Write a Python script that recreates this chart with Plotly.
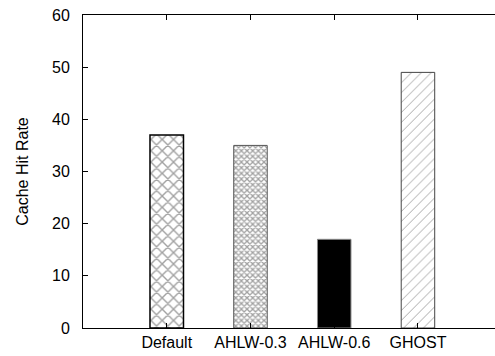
import plotly.graph_objects as go

categories = ["Default", "AHLW-0.3", "AHLW-0.6", "GHOST"]
hit_rate = [37, 35, 17, 49]
y_ticks = [0, 10, 20, 30, 40, 50, 60]

patterns = ["x", "x", "", "/"]
pattern_fg = ["black", "black", "black", "#8a8a8a"]
pattern_size = [8, 4, 8, 7]
pattern_solidity = [0.32, 0.55, 0.3, 0.13]
fill_colors = ["white", "white", "black", "white"]
line_colors = ["black", "#555555", "#888888", "#444444"]
line_widths = [1.5, 1, 1, 1]

fig = go.Figure()
fig.add_trace(go.Bar(
    x=categories,
    y=hit_rate,
    width=0.4,
    marker=dict(
        color=fill_colors,
        line=dict(color=line_colors, width=line_widths),
        pattern=dict(
            shape=patterns,
            fgcolor=pattern_fg,
            bgcolor="white",
            size=pattern_size,
            solidity=pattern_solidity,
            fillmode="overlay",
        ),
    ),
    showlegend=False,
))

font = dict(family="Liberation Sans, Arial, sans-serif", size=16, color="black")

fig.update_layout(
    width=495,
    height=356,
    margin=dict(l=83, r=0, t=15, b=28),
    paper_bgcolor="white",
    plot_bgcolor="white",
    font=font,
)
fig.update_xaxes(
    type="category",
    range=[-1, 3.92],
    showline=True,
    linecolor="black",
    linewidth=1,
    mirror="ticks",
    ticks="inside",
    ticklen=5,
    tickcolor="black",
    showgrid=False,
    tickfont=font,
)
fig.update_yaxes(
    range=[0, 60],
    tickvals=y_ticks,
    showline=True,
    linecolor="black",
    linewidth=1,
    ticks="inside",
    ticklen=5,
    tickcolor="black",
    showgrid=False,
    zeroline=False,
    ticklabelstandoff=9,
    title=dict(text="Cache Hit Rate", font=font, standoff=19),
    tickfont=font,
)

fig.write_html("out.html")
